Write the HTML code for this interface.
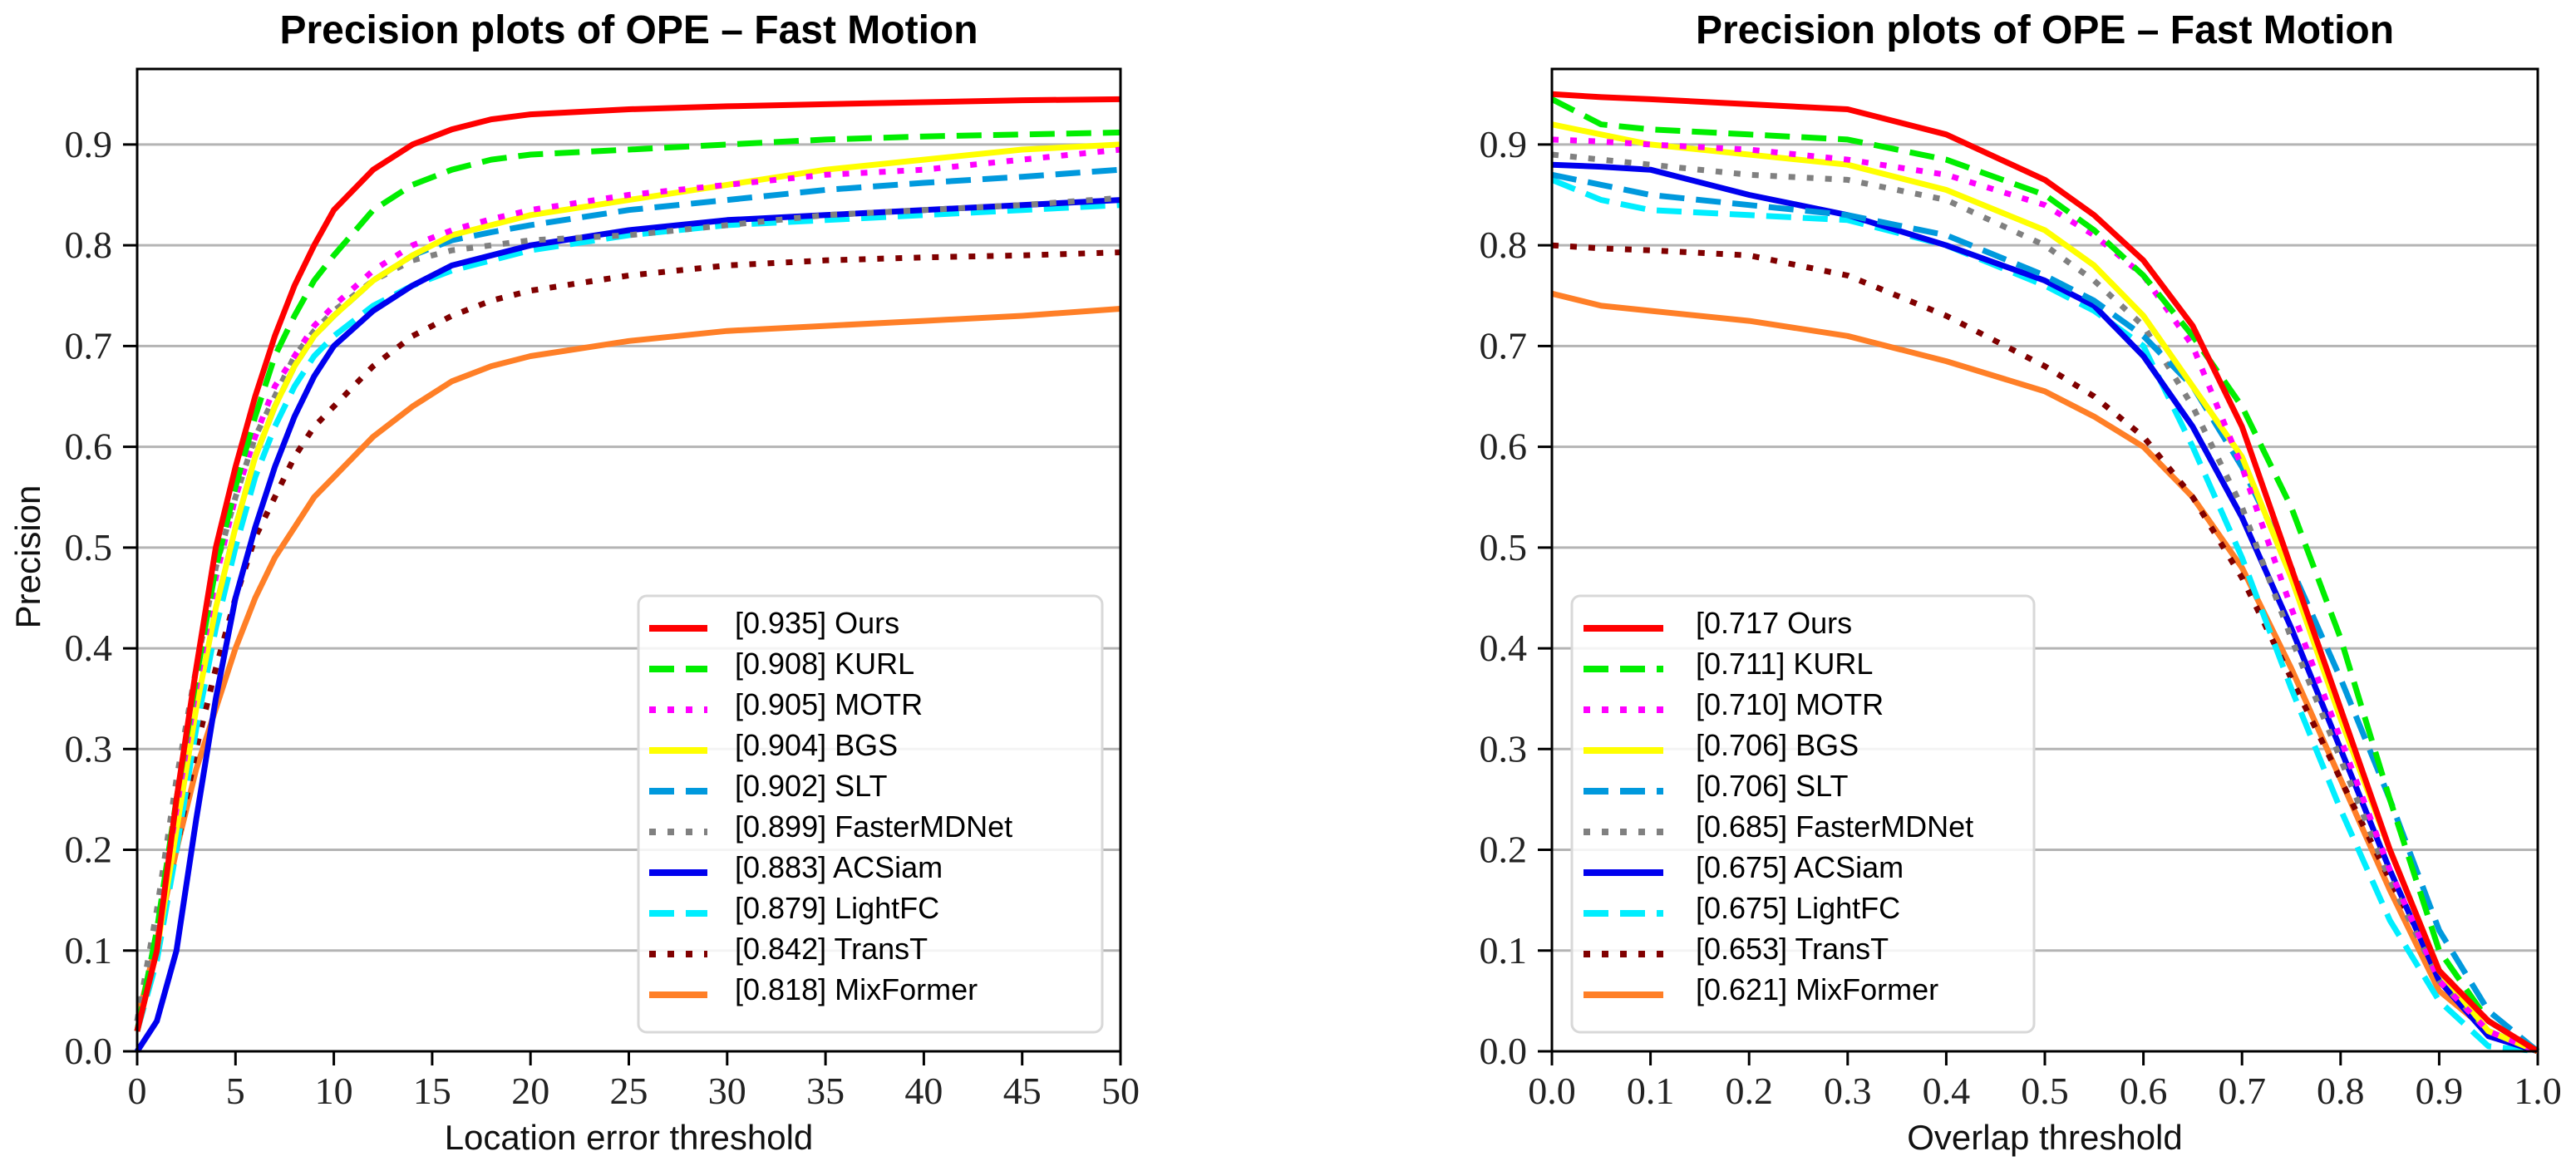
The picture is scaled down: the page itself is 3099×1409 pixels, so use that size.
<!DOCTYPE html>
<html><head><meta charset="utf-8"><style>
html,body{margin:0;padding:0;background:#fff;}
svg{display:block;}
.tick{font-family:"Liberation Serif",serif;font-size:46px;fill:#222;}
.lab{font-family:"Liberation Sans",sans-serif;font-size:42px;fill:#111;}
.title{font-family:"Liberation Sans",sans-serif;font-size:48px;font-weight:bold;fill:#000;}
.leg{font-family:"Liberation Sans",sans-serif;font-size:36px;fill:#000;}
</style></head><body>
<svg id="svg" width="3099" height="1409" viewBox="0 0 3099 1409" xmlns="http://www.w3.org/2000/svg"></svg>
<script>
const names=["Ours","KURL","MOTR","BGS","SLT","FasterMDNet","ACSiam","LightFC","TransT","MixFormer"];
const colors=["#ff0000","#00ee00","#ff00ff","#ffff00","#0099dd","#808080","#0000ee","#00eeff","#800000","#ff7f27"];
const styles=["solid","dash","dot","solid","dash","dot","solid","dash","dot","solid"];
const scoresL=["0.935","0.908","0.905","0.904","0.902","0.899","0.883","0.879","0.842","0.818"];
const scoresR=["0.717","0.711","0.710","0.706","0.706","0.685","0.675","0.675","0.653","0.621"];
const xL=[0,1,2,3,4,5,6,7,8,9,10,12,14,16,18,20,25,30,35,40,45,50];
const yL=[
[0.02,0.1,0.25,0.38,0.5,0.58,0.65,0.71,0.76,0.8,0.835,0.875,0.9,0.915,0.925,0.93,0.935,0.938,0.94,0.942,0.944,0.945],
[0.02,0.12,0.25,0.37,0.48,0.56,0.63,0.69,0.73,0.765,0.79,0.835,0.86,0.875,0.885,0.89,0.895,0.9,0.905,0.908,0.91,0.912],
[0.02,0.12,0.24,0.36,0.47,0.55,0.61,0.66,0.69,0.72,0.74,0.775,0.8,0.815,0.826,0.835,0.85,0.86,0.87,0.875,0.885,0.895],
[0.02,0.1,0.22,0.34,0.44,0.52,0.59,0.64,0.68,0.71,0.73,0.765,0.79,0.81,0.82,0.83,0.845,0.86,0.875,0.885,0.895,0.9],
[0.02,0.1,0.22,0.34,0.44,0.52,0.59,0.64,0.68,0.71,0.73,0.765,0.79,0.805,0.813,0.82,0.835,0.845,0.855,0.862,0.868,0.875],
[0.03,0.14,0.27,0.38,0.48,0.55,0.61,0.65,0.69,0.715,0.735,0.765,0.785,0.795,0.8,0.805,0.81,0.82,0.83,0.835,0.84,0.847],
[0.0,0.03,0.1,0.23,0.35,0.45,0.52,0.58,0.63,0.67,0.7,0.735,0.76,0.78,0.79,0.8,0.815,0.825,0.83,0.835,0.84,0.845],
[0.02,0.09,0.2,0.32,0.42,0.5,0.57,0.62,0.66,0.69,0.71,0.74,0.76,0.775,0.785,0.795,0.81,0.82,0.825,0.83,0.835,0.84],
[0.02,0.1,0.2,0.3,0.38,0.45,0.51,0.55,0.59,0.62,0.64,0.68,0.71,0.73,0.745,0.755,0.77,0.78,0.785,0.788,0.79,0.793],
[0.03,0.11,0.2,0.28,0.34,0.4,0.45,0.49,0.52,0.55,0.57,0.61,0.64,0.665,0.68,0.69,0.705,0.715,0.72,0.725,0.73,0.737]];
const xR=[0,0.05,0.1,0.2,0.3,0.4,0.5,0.55,0.6,0.65,0.7,0.75,0.8,0.85,0.9,0.95,1.0];
const yR=[
[0.95,0.947,0.945,0.94,0.935,0.91,0.865,0.83,0.785,0.72,0.62,0.48,0.34,0.2,0.08,0.03,0],
[0.945,0.92,0.915,0.91,0.905,0.885,0.85,0.815,0.77,0.71,0.64,0.54,0.41,0.25,0.1,0.03,0],
[0.905,0.903,0.9,0.895,0.885,0.87,0.84,0.81,0.77,0.7,0.58,0.44,0.31,0.18,0.07,0.02,0],
[0.92,0.91,0.9,0.89,0.88,0.855,0.815,0.78,0.73,0.66,0.59,0.47,0.33,0.2,0.08,0.02,0],
[0.87,0.86,0.85,0.84,0.83,0.81,0.77,0.745,0.71,0.66,0.58,0.48,0.37,0.25,0.12,0.04,0],
[0.89,0.885,0.88,0.87,0.865,0.845,0.8,0.765,0.72,0.64,0.54,0.41,0.29,0.17,0.07,0.02,0],
[0.88,0.878,0.875,0.85,0.83,0.8,0.765,0.74,0.69,0.62,0.53,0.42,0.3,0.18,0.07,0.015,0],
[0.865,0.845,0.835,0.83,0.825,0.8,0.76,0.735,0.7,0.6,0.49,0.36,0.24,0.13,0.05,0.005,0],
[0.8,0.797,0.795,0.79,0.77,0.73,0.68,0.65,0.61,0.55,0.47,0.37,0.27,0.17,0.08,0.03,0],
[0.752,0.74,0.735,0.725,0.71,0.685,0.655,0.63,0.6,0.55,0.48,0.38,0.27,0.16,0.06,0.02,0]];
const yTicks=[0,0.1,0.2,0.3,0.4,0.5,0.6,0.7,0.8,0.9];
const xTicksL=[0,5,10,15,20,25,30,35,40,45,50];
const xTicksR=[0,0.1,0.2,0.3,0.4,0.5,0.6,0.7,0.8,0.9,1.0];

const NS="http://www.w3.org/2000/svg";
const svg=document.getElementById('svg');
function el(tag,attrs,parent,text){const e=document.createElementNS(NS,tag);for(const k in attrs)e.setAttribute(k,attrs[k]);if(text!==undefined)e.textContent=text;(parent||svg).appendChild(e);return e;}
const TOP=83,BOT=1265,YMAX=0.975;
function yS(v){return BOT-(v/YMAX)*(BOT-TOP);}
function dashFor(s){return s==="dash"?"30 14":s==="dot"?"8 14":"none";}

function panel(id,x0,x1,xmax,xs,ys,xticks,fmt,xlabel,scores,leg){
  const g=el('g',{});
  
  
  const xS=v=>x0+(v/xmax)*(x1-x0);
  yTicks.forEach(t=>{
    if(t>0){const gl=el('line',{x1:x0,x2:x1,y1:yS(t),y2:yS(t),stroke:'#b4b4b4','stroke-width':3},g);
    }
    el('line',{x1:x0-17,x2:x0,y1:yS(t),y2:yS(t),stroke:'#000','stroke-width':3},g);
    const tl=el('text',{x:x0-30,y:yS(t)+15,'text-anchor':'end',class:'tick'},g,t.toFixed(1));
    
  });
  xticks.forEach(t=>{
    el('line',{x1:xS(t),x2:xS(t),y1:BOT,y2:BOT+17,stroke:'#000','stroke-width':3},g);
    const tl=el('text',{x:xS(t),y:BOT+63,'text-anchor':'middle',class:'tick'},g,fmt(t));
    
  });
  for(let i=ys.length-1;i>=0;i--){
    const pts=xs.map((x,j)=>xS(x).toFixed(1)+','+yS(ys[i][j]).toFixed(1)).join(' ');
    const p=el('polyline',{points:pts,fill:'none',stroke:colors[i],'stroke-width':7,'stroke-linejoin':'round','stroke-dasharray':dashFor(styles[i])},g);
    
    
  }
  const fr=el('rect',{x:x0,y:TOP,width:x1-x0,height:BOT-TOP,fill:'none',stroke:'#000','stroke-width':3},g);
  
  const ti=el('text',{x:(x0+x1)/2,y:52,'text-anchor':'middle',class:'title'},g,'Precision plots of OPE \u2013 Fast Motion');
  
  const xl=el('text',{x:(x0+x1)/2,y:1383,'text-anchor':'middle',class:'lab'},g,xlabel);
  
  // legend
  const lg=el('g',{},g);
  
  el('rect',{x:leg.x,y:717,width:leg.w,height:525,rx:10,fill:'#fff','fill-opacity':0.85,stroke:'#d8d8d8','stroke-width':3},lg);
  names.forEach((n,i)=>{
    const cy=749+i*49;
    const e=el('g',{},lg);
    
    el('line',{x1:leg.lx1,x2:leg.lx2,y1:cy+7,y2:cy+7,stroke:colors[i],'stroke-width':8,'stroke-dasharray':dashFor(styles[i])},e);
    const lbl=(id==='right'&&i===0)?'[0.717 Ours':'['+scores[i]+'] '+n;
    el('text',{x:leg.tx,y:cy+13,class:'leg'},e,lbl);
  });
}
panel('left',165,1348,50,xL,yL,xTicksL,t=>String(t),'Location error threshold',scoresL,{x:768,w:558,lx1:781,lx2:851,tx:884});
panel('right',1867,3053,1,xR,yR,xTicksR,t=>t.toFixed(1),'Overlap threshold',scoresR,{x:1891,w:556,lx1:1905,lx2:2001,tx:2040});
const yl=el('text',{x:0,y:0,'text-anchor':'middle',class:'lab',transform:'translate(48,670) rotate(-90)'},svg,'Precision');


</script>
</body></html>
